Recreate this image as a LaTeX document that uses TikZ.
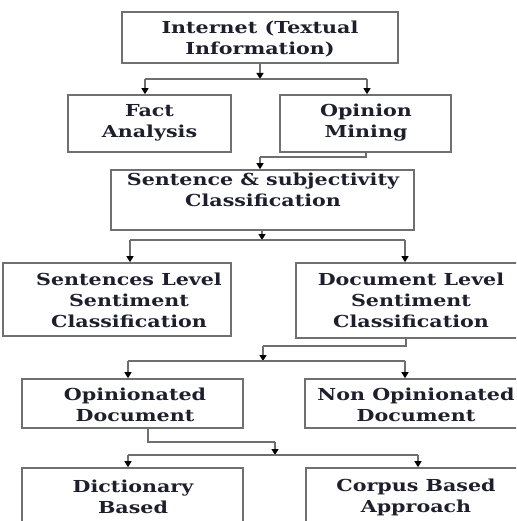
\documentclass[tikz,border=0pt]{standalone}
\usepackage{fontspec}
\setmainfont{DejaVu Serif}[FakeStretch=1.25]
\usetikzlibrary{arrows.meta}
\definecolor{boxgray}{RGB}{112,112,112}
\definecolor{linegray}{RGB}{110,110,110}
\definecolor{txtcol}{RGB}{30,30,45}
\tikzset{
  box/.style={draw=boxgray,line width=1.6pt,rectangle,inner sep=0pt},
  txt/.style={align=center,text=txtcol,font=\bfseries\fontsize{16.5}{21}\selectfont,inner sep=0pt},
  ln/.style={draw=linegray,line width=1.2pt},
  arr/.style={draw=linegray,line width=1.2pt,-{Triangle[width=7pt,length=6pt,fill=black,color=black]}}
}
\newcommand{\boxat}[5]{% name, x1,y1,x2,y2
  \node[box,minimum width={(#4-#2)*1pt},minimum height={(#5-#3)*1pt}] (#1) at ({(#2+#4)/2},{(#3+#5)/2}) {};}
\begin{document}
\begin{tikzpicture}[x=1pt,y=-1pt]
\useasboundingbox (0,0) rectangle (516,521);
\clip (0,0) rectangle (516,521);
% boxes
\boxat{inet}{122}{12}{398}{63}
\boxat{fact}{68}{95}{231}{152}
\boxat{opin}{280}{95}{451}{152}
\boxat{sent}{111}{170}{414}{230}
\boxat{slevel}{3}{263}{231}{336}
\boxat{dlevel}{296}{263}{527}{338}
\boxat{opdoc}{22}{379}{243}{428}
\boxat{nonop}{305}{379}{527}{428}
\boxat{dict}{22}{468}{243}{548}
\boxat{corpus}{306}{468}{527}{548}
% texts
\node[txt] (inetT) at (260,39.5) {Internet (Textual\\Information)};
\node[txt] (factT) at (149.5,123) {Fact\\Analysis};
\node[txt] (opinT) at (366,123) {Opinion\\Mining};
\node[txt] (sentT) at (263,189.5) {Sentence \& subjectivity\\Classification};
\node[txt] (slevelT) at (129,300) {Sentences Level\\Sentiment\\Classification};
\node[txt] (dlevelT) at (411,300) {Document Level\\Sentiment\\Classification};
\node[txt] (opdocT) at (135,405) {Opinionated\\Document};
\node[txt] (nonopT) at (416,405) {Non Opinionated\\Document};
\node[txt] (dictT) at (133,497) {Dictionary\\Based};
\node[txt] (corpusT) at (416,497) {Corpus Based\\Approach};
% connectors 1
\coordinate (j1) at (260,79);
\coordinate (j1L) at (145,79);
\coordinate (j1R) at (367,79);
\draw[arr] (260,0 |- inet.south) -- (j1);
\draw[ln] (j1L) -- (j1R);
\draw[arr] (j1L) -- (j1L |- fact.north);
\draw[arr] (j1R) -- (j1R |- opin.north);
% connectors 2
\coordinate (j2a) at (366,157);
\coordinate (j2) at (260,157);
\draw[ln] (j2a |- opin.south) -- (j2a) -- (j2);
\draw[arr] (j2) -- (j2 |- sent.north);
% connectors 3
\coordinate (j3) at (262,240);
\coordinate (j3L) at (130,240);
\coordinate (j3R) at (405,240);
\draw[arr] (j3 |- sent.south) -- (j3);
\draw[ln] (j3L) -- (j3R);
\draw[arr] (j3L) -- (j3L |- slevel.north);
\draw[arr] (j3R) -- (j3R |- dlevel.north);
% connectors 4
\coordinate (j4a) at (406,346);
\coordinate (j4b) at (263,346);
\coordinate (j4) at (263,361);
\coordinate (j4L) at (128,361);
\coordinate (j4R) at (405,361);
\draw[ln] (j4a |- dlevel.south) -- (j4a) -- (j4b);
\draw[arr] (j4b) -- (j4);
\draw[ln] (j4L) -- (j4R);
\draw[arr] (j4L) -- (j4L |- opdoc.north);
\draw[arr] (j4R) -- (j4R |- nonop.north);
% connectors 5
\coordinate (j5a) at (148,442);
\coordinate (j5b) at (275,442);
\coordinate (j5) at (275,455);
\coordinate (j5L) at (128,455);
\coordinate (j5R) at (418,455);
\draw[ln] (j5a |- opdoc.south) -- (j5a) -- (j5b);
\draw[arr] (j5b) -- (j5);
\draw[ln] (j5L) -- (j5R);
\draw[arr] (j5L) -- (j5L |- dict.north);
\draw[arr] (j5R) -- (j5R |- corpus.north);
\end{tikzpicture}
\end{document}
